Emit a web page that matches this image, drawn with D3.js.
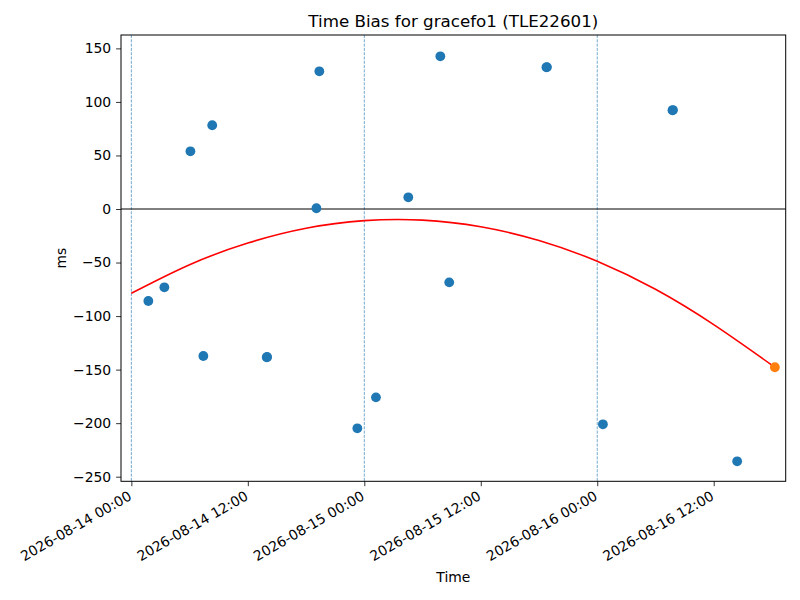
<!DOCTYPE html>
<html>
<head>
  <meta charset="utf-8">
  <title>Time Bias for gracefo1 (TLE22601)</title>
  <script src="https://d3js.org/d3.v7.min.js"></script>
  <style>
    body { margin: 0; background: #fff; }
    svg text { font-family: "DejaVu Sans", sans-serif; fill: #000; }
    .axis text { font-size: 13.9px; }
    .axis path, .axis line { stroke: #000; stroke-width: 0.8px; }
  </style>
</head>
<body>
  <svg width="800" height="600"></svg>
  <script>
    // measured bias samples (UTC time, ms)
    const obsTimes = [
      "2026-08-14 01:45", "2026-08-14 03:24", "2026-08-14 06:05", "2026-08-14 07:25",
      "2026-08-14 08:20", "2026-08-14 13:57", "2026-08-14 13:59", "2026-08-14 19:04",
      "2026-08-14 19:22", "2026-08-14 23:17", "2026-08-15 01:12", "2026-08-15 04:32",
      "2026-08-15 07:50", "2026-08-15 08:45", "2026-08-15 18:46", "2026-08-15 18:49",
      "2026-08-16 00:35", "2026-08-16 07:45", "2026-08-16 07:48", "2026-08-16 14:25"
    ];
    const obsValues = [
      -85.9, -73.1, 53.9, -137.3,
      78.2, -138.5, -138.2, 0.7,
      128.6, -204.8, -175.9, 10.9,
      142.6, -68.5, 132.3, 132.5,
      -201.1, 92.2, 92.4, -235.6
    ];

    // latest point
    const lastTime = "2026-08-16 18:18";
    const lastValue = -147.8;

    // fitted trend
    const fitTimes = [
      "2026-08-14 00:00", "2026-08-14 06:00", "2026-08-14 12:00", "2026-08-14 18:00",
      "2026-08-15 00:00", "2026-08-15 06:00", "2026-08-15 12:00", "2026-08-15 18:00",
      "2026-08-16 00:00", "2026-08-16 06:00", "2026-08-16 12:00", "2026-08-16 18:18"
    ];
    const fitValues = [
      -78.7, -52.0, -31.8, -18.0,
      -10.9, -10.4, -16.6, -29.4,
      -48.8, -75.0, -108.0, -147.8
    ];

    const dayLines = ["2026-08-14 00:00", "2026-08-15 00:00", "2026-08-16 00:00"];
    const yTicks = [-250, -200, -150, -100, -50, 0, 50, 100, 150];
    const xStart = "2026-08-13 22:56", xEnd = "2026-08-16 19:25";
    const yMin = -254.3, yMax = 162.5;

    const parse = d3.utcParse("%Y-%m-%d %H:%M");
    const fmt = d3.utcFormat("%Y-%m-%d %H:%M");

    const svg = d3.select("svg"),
          width = +svg.attr("width"),
          height = +svg.attr("height");
    const margin = {top: 35, right: 14.3, bottom: 118.7, left: 121};
    const iw = width - margin.left - margin.right,
          ih = height - margin.top - margin.bottom;

    const x = d3.scaleUtc()
      .domain([parse(xStart), parse(xEnd)])
      .range([0, iw]);
    const y = d3.scaleLinear()
      .domain([yMin, yMax])
      .range([ih, 0]);

    const g = svg.append("g")
      .attr("transform", `translate(${margin.left},${margin.top})`);

    // day boundaries
    g.selectAll(".day")
      .data(dayLines.map(parse))
      .enter().append("line")
      .attr("class", "day")
      .attr("x1", d => x(d)).attr("x2", d => x(d))
      .attr("y1", 0).attr("y2", ih)
      .attr("stroke", "#1f77b4")
      .attr("stroke-opacity", 0.8)
      .attr("stroke-width", 0.8)
      .attr("stroke-dasharray", "3,1.3");

    // zero line
    g.append("line")
      .attr("x1", 0).attr("x2", iw)
      .attr("y1", y(0)).attr("y2", y(0))
      .attr("stroke", "#000")
      .attr("stroke-width", 1);

    // trend
    const fit = fitTimes.map((t, i) => ({t: parse(t), v: fitValues[i]}));
    g.append("path")
      .datum(fit)
      .attr("fill", "none")
      .attr("stroke", "red")
      .attr("stroke-width", 1.6)
      .attr("d", d3.line().x(d => x(d.t)).y(d => y(d.v)).curve(d3.curveNatural));

    // samples
    const obs = obsTimes.map((t, i) => ({t: parse(t), v: obsValues[i]}));
    g.selectAll(".obs")
      .data(obs)
      .enter().append("circle")
      .attr("class", "obs")
      .attr("cx", d => x(d.t))
      .attr("cy", d => y(d.v))
      .attr("r", 4.9)
      .attr("fill", "#1f77b4");

    g.append("circle")
      .attr("cx", x(parse(lastTime)))
      .attr("cy", y(lastValue))
      .attr("r", 4.9)
      .attr("fill", "#ff7f0e");

    // frame
    g.append("rect")
      .attr("width", iw).attr("height", ih)
      .attr("fill", "none")
      .attr("stroke", "#000")
      .attr("stroke-width", 1);

    // axes
    const xAxis = g.append("g")
      .attr("class", "axis")
      .attr("transform", `translate(0,${ih})`)
      .call(d3.axisBottom(x)
        .ticks(d3.utcHour.every(12))
        .tickFormat(fmt)
        .tickSize(4.9)
        .tickSizeOuter(0));
    xAxis.select(".domain").remove();
    xAxis.selectAll("text")
      .attr("text-anchor", "end")
      .attr("y", 0)
      .attr("transform", "translate(-4.5,8.5) rotate(-30)")
      .attr("dy", "0.75em");

    const yAxis = g.append("g")
      .attr("class", "axis")
      .call(d3.axisLeft(y)
        .tickValues(yTicks)
        .tickSize(4.9)
        .tickPadding(4.9)
        .tickSizeOuter(0));
    yAxis.select(".domain").remove();

    // labels
    svg.append("text")
      .attr("x", margin.left + iw / 2)
      .attr("y", 26.7)
      .attr("text-anchor", "middle")
      .style("font-size", "16.7px")
      .text("Time Bias for gracefo1 (TLE22601)");

    svg.append("text")
      .attr("x", margin.left + iw / 2)
      .attr("y", 582)
      .attr("text-anchor", "middle")
      .style("font-size", "13.9px")
      .text("Time");

    svg.append("text")
      .attr("transform", `translate(66,${margin.top + ih / 2}) rotate(-90)`)
      .attr("text-anchor", "middle")
      .style("font-size", "13.9px")
      .text("ms");
  </script>
</body>
</html>
